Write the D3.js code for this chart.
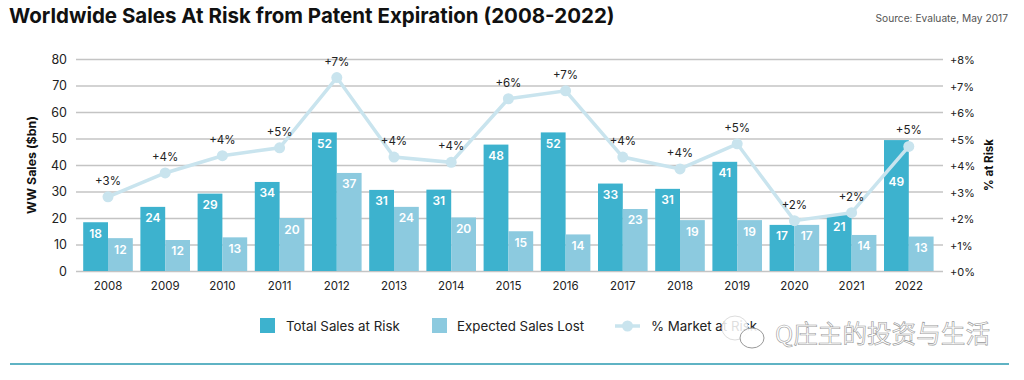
<!DOCTYPE html>
<html>
<head>
<meta charset="utf-8">
<script src="https://cdn.jsdelivr.net/npm/d3@7"></script>
<style>
html, body { margin: 0; padding: 0; background: #fff; overflow: hidden; }
text { font-family: Inter, sans-serif; }
</style>
</head>
<body>
<div id="chart"></div>
<script>
var years = ["2008", "2009", "2010", "2011", "2012", "2013", "2014", "2015", "2016", "2017", "2018", "2019", "2020", "2021", "2022"];
var totalSales = [18.4, 24.2, 29.2, 33.6, 52.3, 30.6, 30.7, 47.7, 52.3, 33, 31, 41.2, 17.4, 21.1, 49.4];
var totalLabels = [18, 24, 29, 34, 52, 31, 31, 48, 52, 33, 31, 41, 17, 21, 49];
var salesLost = [12.4, 11.7, 12.7, 20, 37, 24.2, 20.2, 15, 13.8, 23.4, 19.2, 19.2, 17.4, 13.6, 13];
var lostLabels = [12, 12, 13, 20, 37, 24, 20, 15, 14, 23, 19, 19, 17, 14, 13];
var marketPct = [2.8, 3.7, 4.35, 4.65, 7.3, 4.3, 4.1, 6.5, 6.8, 4.3, 3.85, 4.8, 1.9, 2.2, 4.7];
var pctLabels = ["+3%", "+4%", "+4%", "+5%", "+7%", "+4%", "+4%", "+6%", "+7%", "+4%", "+4%", "+5%", "+2%", "+2%", "+5%"];
var legendItems = ["Total Sales at Risk", "Expected Sales Lost", "% Market at Risk"];

var width = 1024, height = 380;
var darkBlue = "#3db2ce", lightBlue = "#8ccadf", lineBlue = "#c9e4ee";

var svg = d3.select("#chart").append("svg")
    .attr("width", width)
    .attr("height", height);

var x = d3.scaleBand().domain(years).range([79.4, 937.4]);
var y = d3.scaleLinear().domain([0, 80]).range([271, 59]);
var yPct = d3.scaleLinear().domain([0, 8]).range([271, 59]);
function cx(d) { return x(d) + x.bandwidth() / 2; }

// grid lines + left axis
var yAxis = d3.axisLeft(y).tickValues(d3.range(0, 81, 10)).tickSize(0).tickPadding(9);
var gLeft = svg.append("g").attr("transform", "translate(76,0)").call(yAxis);
gLeft.select(".domain").remove();
gLeft.selectAll("text").style("font-size", "12.5px").attr("fill", "#222");
gLeft.selectAll(".tick").append("line")
    .attr("x1", 0).attr("x2", 867)
    .attr("stroke", "#c4c4c4").attr("stroke-width", 1.3);

var yRight = d3.axisRight(yPct).tickValues(d3.range(0, 9)).tickFormat(function (d) { return "+" + d + "%"; }).tickSize(0).tickPadding(7);
var gRight = svg.append("g").attr("transform", "translate(943,0)").call(yRight);
gRight.select(".domain").remove();
gRight.selectAll("text").style("font-size", "11px").attr("fill", "#222").attr("dy", "0.42em");

var xAxis = d3.axisBottom(x).tickSize(0).tickPadding(11);
var gBottom = svg.append("g").attr("transform", "translate(0,271)").call(xAxis);
gBottom.select(".domain").remove();
gBottom.selectAll("text").style("font-size", "11.5px").attr("fill", "#222");

// bars
var barW = 24.8;
svg.selectAll(".total").data(years).enter().append("rect")
    .attr("class", "total")
    .attr("x", function (d) { return cx(d) - barW; })
    .attr("y", function (d, i) { return y(totalSales[i]); })
    .attr("width", barW)
    .attr("height", function (d, i) { return y(0) - y(totalSales[i]); })
    .attr("fill", darkBlue);
svg.selectAll(".lost").data(years).enter().append("rect")
    .attr("class", "lost")
    .attr("x", function (d) { return cx(d); })
    .attr("y", function (d, i) { return y(salesLost[i]); })
    .attr("width", barW)
    .attr("height", function (d, i) { return y(0) - y(salesLost[i]); })
    .attr("fill", lightBlue);

// line
var line = d3.line()
    .x(function (d, i) { return cx(years[i]); })
    .y(function (d) { return yPct(d); });
svg.append("path")
    .attr("d", line(marketPct))
    .attr("fill", "none")
    .attr("stroke", lineBlue)
    .attr("stroke-width", 3.5);
svg.selectAll(".dot").data(marketPct).enter().append("circle")
    .attr("class", "dot")
    .attr("cx", function (d, i) { return cx(years[i]); })
    .attr("cy", function (d) { return yPct(d); })
    .attr("r", 5.5)
    .attr("fill", lineBlue);

// bar labels sit near the top of the bar, the 2022 one moved down clear of the line
svg.selectAll(".totalLabel").data(years).enter().append("text")
    .attr("class", "totalLabel")
    .attr("x", function (d) { return cx(d) - barW / 2; })
    .attr("y", function (d, i) { return y(totalSales[i]) + (d === "2022" ? 46 : 15.5); })
    .attr("text-anchor", "middle")
    .attr("fill", "#fff")
    .style("font-size", "12px")
    .style("font-weight", 600)
    .text(function (d, i) { return totalLabels[i]; });
svg.selectAll(".lostLabel").data(years).enter().append("text")
    .attr("class", "lostLabel")
    .attr("x", function (d) { return cx(d) + barW / 2; })
    .attr("y", function (d, i) { return y(salesLost[i]) + 15.5; })
    .attr("text-anchor", "middle")
    .attr("fill", "#fff")
    .style("font-size", "12px")
    .style("font-weight", 600)
    .text(function (d, i) { return lostLabels[i]; });

svg.selectAll(".pct").data(marketPct).enter().append("text")
    .attr("class", "pct")
    .attr("x", function (d, i) { return cx(years[i]); })
    .attr("y", function (d) { return yPct(d) - 12; })
    .attr("text-anchor", "middle")
    .attr("fill", "#222")
    .style("font-size", "11.5px")
    .text(function (d, i) { return pctLabels[i]; });

// titles
svg.append("text").attr("x", 9).attr("y", 23)
    .attr("fill", "#111")
    .style("font-size", "20.5px").style("font-weight", 700)
    .text("Worldwide Sales At Risk from Patent Expiration (2008-2022)");
svg.append("text").attr("x", 1008).attr("y", 22)
    .attr("text-anchor", "end")
    .attr("fill", "#555")
    .style("font-size", "10.2px")
    .text("Source: Evaluate, May 2017");
svg.append("text").attr("transform", "translate(36,165) rotate(-90)")
    .attr("text-anchor", "middle")
    .attr("fill", "#111")
    .style("font-size", "12.4px").style("font-weight", 700)
    .text("WW Sales ($bn)");
svg.append("text").attr("transform", "translate(993,165) rotate(-90)")
    .attr("text-anchor", "middle")
    .attr("fill", "#111")
    .style("font-size", "11.5px").style("font-weight", 700)
    .text("% at Risk");

// legend
svg.append("rect").attr("x", 260).attr("y", 318).attr("width", 15).attr("height", 15).attr("fill", darkBlue);
svg.append("text").attr("x", 286).attr("y", 330.5).style("font-size", "13.3px").attr("fill", "#222").text(legendItems[0]);
svg.append("rect").attr("x", 432).attr("y", 318).attr("width", 15).attr("height", 15).attr("fill", lightBlue);
svg.append("text").attr("x", 457).attr("y", 330.5).style("font-size", "13.3px").attr("fill", "#222").text(legendItems[1]);
svg.append("line").attr("x1", 615).attr("x2", 640).attr("y1", 326).attr("y2", 326).attr("stroke", lineBlue).attr("stroke-width", 3.5);
svg.append("circle").attr("cx", 627.5).attr("cy", 326).attr("r", 5.5).attr("fill", lineBlue);
svg.append("text").attr("x", 651).attr("y", 330.5).style("font-size", "13.3px").attr("fill", "#222").text(legendItems[2]);

// watermark over the legend
var wm = svg.append("g");
wm.append("ellipse").attr("cx", 735).attr("cy", 328).attr("rx", 13).attr("ry", 12).attr("fill", "#fff").attr("fill-opacity", 0.85).attr("stroke", "#ddd");
wm.append("ellipse").attr("cx", 752).attr("cy", 338).attr("rx", 12).attr("ry", 10).attr("fill", "#fff").attr("fill-opacity", 0.9).attr("stroke", "#999");
wm.append("text").attr("x", 775).attr("y", 343)
    .attr("fill", "#fff").attr("stroke", "#999").attr("stroke-width", 0.6)
    .style("font-family", '"Noto Sans CJK SC"')
    .style("font-size", "24.6px")
    .text("Q庄主的投资与生活");

// bottom rule
svg.append("line").attr("x1", 10).attr("x2", 1009).attr("y1", 364).attr("y2", 364).attr("stroke", "#5fb3c4").attr("stroke-width", 2);
</script>
</body>
</html>
